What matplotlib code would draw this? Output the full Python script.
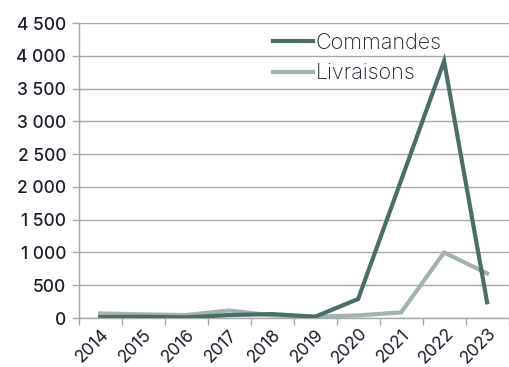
import matplotlib
matplotlib.use("Agg")
import matplotlib.pyplot as plt
from matplotlib.ticker import FuncFormatter
from matplotlib.transforms import ScaledTranslation

years = ["2014", "2015", "2016", "2017", "2018", "2019", "2020", "2021", "2022", "2023"]
commandes = [15, 18, 10, 45, 60, 20, 290, 2100, 3920, 240]
livraisons = [70, 55, 45, 115, 40, 20, 40, 85, 1000, 680]

dark = "#4b6e6a"
light = "#a2b2af"
grid_col = "#a8a8a8"
text_col = "#1d1e2c"

plt.rcParams["font.family"] = ["Inter", "DejaVu Sans"]

fig = plt.figure(figsize=(5.09, 3.67), dpi=100)
ax = fig.add_axes([0.1546, 0.1335, 0.8446, 0.8035])

x = list(range(len(years)))
ax.plot(x, livraisons, color=light, lw=3.0, label="Livraisons", solid_joinstyle="miter", zorder=2)
ax.plot(x, commandes, color=dark, lw=3.0, label="Commandes", solid_joinstyle="miter", zorder=3)

ax.set_xlim(-0.5, len(years) - 0.5)
ax.set_ylim(0, 4500)
ax.set_yticks(range(0, 4501, 500))
ax.yaxis.set_major_formatter(FuncFormatter(lambda v, p: f"{int(v):,}".replace(",", " ")))

# tick marks at category boundaries, year labels under the category centres
ax.set_xticks([i - 0.5 for i in range(len(years) + 1)])
ax.set_xticklabels([])
ax.tick_params(axis="x", which="major", length=5, color=grid_col, width=1)
shift = ScaledTranslation(-8 / 100, -28 / 100, fig.dpi_scale_trans)
for xi, yr in zip(x, years):
    ax.text(xi, 0, yr, transform=ax.get_xaxis_transform() + shift,
            rotation=45, ha="center", va="center", rotation_mode="anchor",
            fontsize=12.5, color=text_col, clip_on=False)

ax.tick_params(axis="y", length=5, color=grid_col, width=1, pad=4,
               labelsize=12.5, labelcolor=text_col)
for lbl in ax.get_yticklabels():
    lbl.set_fontweight("medium")

ax.grid(axis="y", color=grid_col, lw=1)
ax.set_axisbelow(True)
for side in ("top", "right"):
    ax.spines[side].set_visible(False)
for side in ("left", "bottom"):
    ax.spines[side].set_color(grid_col)
    ax.spines[side].set_linewidth(1)

handles, labels = ax.get_legend_handles_labels()
leg = ax.legend(handles[::-1], labels[::-1], loc="upper left",
                bbox_to_anchor=(0.417, 1.019), frameon=False,
                fontsize=15.5, handlelength=1.85, handletextpad=0.12,
                labelspacing=0.5, borderaxespad=0.3)
for t in leg.get_texts():
    t.set_color(text_col)
    t.set_fontweight("light")

fig.savefig("out.png", dpi=100)
